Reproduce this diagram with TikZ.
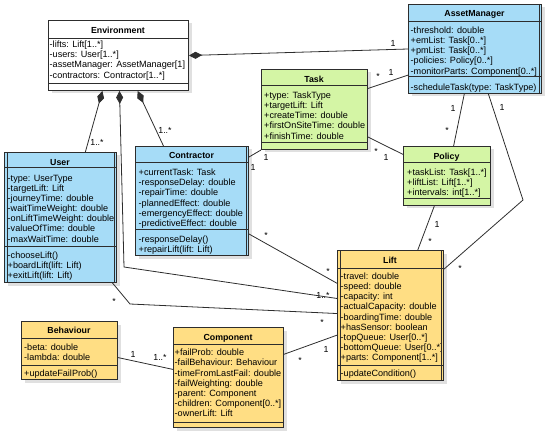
\documentclass[tikz,border=0pt]{standalone}
\usepackage{fontspec}
\setmainfont{Liberation Sans}
\usetikzlibrary{positioning,calc,arrows.meta,shadows}

\definecolor{umlline}{RGB}{45,45,45}
\definecolor{activeblue}{RGB}{166,220,247}
\definecolor{taskgreen}{RGB}{212,245,165}
\definecolor{liftorange}{RGB}{255,222,132}

\tikzset{
  classbox/.style={draw=umlline, line width=1pt, anchor=north west, inner sep=0pt,
    drop shadow={shadow xshift=3pt, shadow yshift=-3pt, fill=black, opacity=0.12}},
  classname/.style={font=\fontsize{8.8}{10.2}\selectfont\bfseries, inner sep=0pt, anchor=base},
  members/.style={font=\fontsize{9.1}{10.2}\selectfont, align=left, inner sep=0pt, anchor=base west},
  sepline/.style={draw=umlline, line width=1pt},
  assoc/.style={draw=umlline, line width=0.8pt},
  compose/.style={assoc, {Diamond[length=13pt,width=7pt]}-},
  mult/.style={font=\fontsize{8.8}{10.2}\selectfont, inner sep=0pt, anchor=base},
}

\begin{document}
\begin{tikzpicture}[x=1pt, y=-1pt]
\useasboundingbox (0,0) rectangle (550,436);

% Environment
\node[classbox, fill=white, minimum width=140pt, minimum height=70pt] (env) at (48,20) {};
\node[classname] (env-name) at (118,34) {Environment};
\node[members] (env-attr) at (49.5,78.2) {-lifts: Lift[1..*]\\-users: User[1..*]\\-assetManager: AssetManager[1]\\-contractors: Contractor[1..*]};
\draw[sepline] (env.west |- 0,39) -- (env.east |- 0,39);
\draw[sepline] (env.west |- 0,84) -- (env.east |- 0,84);

% AssetManager
\node[classbox, fill=activeblue, minimum width=133pt, minimum height=89pt] (am) at (408,4) {};
\node[classname] (am-name) at (474.5,17) {AssetManager};
\node[members] (am-attr) at (410.5,74.1) {-threshold: double\\+emList: Task[0..*]\\+pmList: Task[0..*]\\-policies: Policy[0..*]\\-monitorParts: Component[0..*]};
\node[members] (am-ops) at (410.5,90.6) {-scheduleTask(type: TaskType)};
\draw[sepline] (am.west |- 0,22) -- (am.east |- 0,22);
\draw[sepline] (am.west |- 0,77) -- (am.east |- 0,77);
\draw[sepline] ([xshift=-3pt]am.north east) -- ([xshift=-3pt]am.south east);

% Task
\node[classbox, fill=taskgreen, minimum width=106pt, minimum height=80pt] (task) at (261,69) {};
\node[classname] (task-name) at (314,83) {Task};
\node[members] (task-attr) at (264,139.1) {+type: TaskType\\+targetLift: Lift\\+createTime: double\\+firstOnSiteTime: double\\+finishTime: double};
\draw[sepline] (task.west |- 0,86) -- (task.east |- 0,86);
\draw[sepline] (task.west |- 0,143) -- (task.east |- 0,143);

% Policy
\node[classbox, fill=taskgreen, minimum width=87pt, minimum height=59pt] (policy) at (403,146) {};
\node[classname] (policy-name) at (446.5,160) {Policy};
\node[members] (policy-attr) at (407,196) {+taskList: Task[1..*]\\+liftList: Lift[1..*]\\+intervals: int[1..*]};
\draw[sepline] (policy.west |- 0,163) -- (policy.east |- 0,163);
\draw[sepline] (policy.west |- 0,199) -- (policy.east |- 0,199);

% User
\node[classbox, fill=activeblue, minimum width=112pt, minimum height=130pt] (user) at (4,152) {};
\node[classname] (user-name) at (60,165) {User};
\node[members] (user-attr) at (7.5,242.2) {-type: UserType\\-targetLift: Lift\\-journeyTime: double\\-waitTimeWeight: double\\-onLiftTimeWeight: double\\-valueOfTime: double\\-maxWaitTime: double};
\node[members] (user-ops) at (7.5,278.7) {-chooseLift()\\+boardLift(lift: Lift)\\+exitLift(lift: Lift)};
\draw[sepline] (user.west |- 0,168) -- (user.east |- 0,168);
\draw[sepline] (user.west |- 0,246) -- (user.east |- 0,246);
\draw[sepline] ([xshift=3pt]user.north west) -- ([xshift=3pt]user.south west);
\draw[sepline] ([xshift=-3pt]user.north east) -- ([xshift=-3pt]user.south east);

% Contractor
\node[classbox, fill=activeblue, minimum width=113pt, minimum height=109pt] (contractor) at (135,146) {};
\node[classname] (contractor-name) at (191.5,159) {Contractor};
\node[members] (contractor-attr) at (138.5,226.6) {+currentTask: Task\\-responseDelay: double\\-repairTime: double\\-plannedEffect: double\\-emergencyEffect: double\\-predictiveEffect: double};
\node[members] (contractor-ops) at (138.5,252.8) {-responseDelay()\\+repairLift(lift: Lift)};
\draw[sepline] (contractor.west |- 0,163) -- (contractor.east |- 0,163);
\draw[sepline] (contractor.west |- 0,230) -- (contractor.east |- 0,230);
\draw[sepline] ([xshift=-3pt]contractor.north east) -- ([xshift=-3pt]contractor.south east);

% Lift
\node[classbox, fill=liftorange, minimum width=106pt, minimum height=130pt] (lift) at (337,250) {};
\node[classname] (lift-name) at (390,263) {Lift};
\node[members] (lift-attr) at (340.5,360.9) {-travel: double\\-speed: double\\-capacity: int\\-actualCapacity: double\\-boardingTime: double\\+hasSensor: boolean\\-topQueue: User[0..*]\\-bottomQueue: User[0..*]\\+parts: Component[1..*]};
\node[members] (lift-ops) at (340.5,376.6) {-updateCondition()};
\draw[sepline] (lift.west |- 0,268) -- (lift.east |- 0,268);
\draw[sepline] (lift.west |- 0,365) -- (lift.east |- 0,365);
\draw[sepline] ([xshift=3pt]lift.north west) -- ([xshift=3pt]lift.south west);
\draw[sepline] ([xshift=-3pt]lift.north east) -- ([xshift=-3pt]lift.south east);

% Behaviour
\node[classbox, fill=liftorange, minimum width=96pt, minimum height=58pt] (behaviour) at (21,321) {};
\node[classname] (behaviour-name) at (69,334) {Behaviour};
\node[members] (behaviour-attr) at (24,360.5) {-beta: double\\-lambda: double};
\node[members] (behaviour-ops) at (24,376.6) {+updateFailProb()};
\draw[sepline] (behaviour.west |- 0,338) -- (behaviour.east |- 0,338);
\draw[sepline] (behaviour.west |- 0,365) -- (behaviour.east |- 0,365);

% Component
\node[classbox, fill=liftorange, minimum width=110pt, minimum height=100pt] (component) at (173,327) {};
\node[classname] (component-name) at (228,340) {Component};
\node[members] (component-attr) at (174.5,416.8) {+failProb: double\\-failBehaviour: Behaviour\\-timeFromLastFail: double\\-failWeighting: double\\-parent: Component\\-children: Component[0..*]\\-ownerLift: Lift};
\draw[sepline] (component.west |- 0,344) -- (component.east |- 0,344);
\draw[sepline] (component.west |- 0,422) -- (component.east |- 0,422);

% connectors
\coordinate (env-bend) at (124,267);
\coordinate (user-bend) at (130,304);
\coordinate (am-bend) at (523,200);
\draw[compose] (env.east) -- (am.west);
\draw[compose] ($(env.south west)!0.386!(env.south east)$) -- ($(user.north west)!0.72!(user.north east)$);
\draw[compose] ($(env.south west)!0.507!(env.south east)$) -- (env-bend) -- ($(lift.north west)!0.37!(lift.south west)$);
\draw[compose] ($(env.south west)!0.636!(env.south east)$) -- ($(contractor.north west)!0.25!(contractor.north east)$);
\draw[assoc] ($(user.south west)!0.96!(user.south east)$) -- (user-bend) -- ($(lift.north west)!0.485!(lift.south west)$);
\draw[assoc] ($(contractor.north east)!0.8!(contractor.south east)$) -- ($(lift.north west)!0.254!(lift.south west)$);
\draw[assoc] ($(contractor.north east)!0.1!(contractor.south east)$) -- (task.south west);
\draw[assoc] ($(task.north east)!0.24!(task.south east)$) -- ($(am.north west)!0.79!(am.south west)$);
\draw[assoc] ($(task.north east)!0.84!(task.south east)$) -- ($(policy.north west)!0.14!(policy.south west)$);
\draw[assoc] ($(am.south west)!0.42!(am.south east)$) -- ($(policy.north west)!0.575!(policy.north east)$);
\draw[assoc] ($(am.south west)!0.6!(am.south east)$) -- (am-bend) -- ($(lift.north east)!0.146!(lift.south east)$);
\draw[assoc] ($(policy.south west)!0.356!(policy.south east)$) -- ($(lift.north west)!0.755!(lift.north east)$);
\draw[assoc] ($(component.north east)!0.27!(component.south east)$) -- ($(lift.north west)!0.65!(lift.south west)$);
\draw[assoc] ($(behaviour.north east)!0.62!(behaviour.south east)$) -- ($(component.north west)!0.42!(component.south west)$);

% multiplicities
\node[mult] (m-env-am) at (393,46.2) {1};
\node[mult] (m-env-user) at (97,146) {1..*};
\node[mult] (m-env-contractor) at (165,133.5) {1..*};
\node[mult] (m-env-lift) at (323,298.5) {1..*};
\node[mult] (m-user-a) at (114,304) {*};
\node[mult] (m-user-b) at (322,325) {*};
\node[mult] (m-contractor-a) at (266,239) {*};
\node[mult] (m-contractor-b) at (328,274) {*};
\node[mult] (m-ct-a) at (266,160.2) {1};
\node[mult] (m-ct-b) at (253,170.2) {1};
\node[mult] (m-task-am-a) at (378,80) {*};
\node[mult] (m-task-am-b) at (391,75.2) {1};
\node[mult] (m-task-policy-a) at (376,154) {*};
\node[mult] (m-task-policy-b) at (386,160.2) {1};
\node[mult] (m-am-policy-a) at (453,111.2) {1};
\node[mult] (m-am-policy-b) at (447,134) {*};
\node[mult] (m-am-lift-a) at (502,110.2) {1};
\node[mult] (m-am-lift-b) at (460,271) {*};
\node[mult] (m-policy-lift-a) at (437,227.2) {1};
\node[mult] (m-policy-lift-b) at (430,244) {*};
\node[mult] (m-component-lift-a) at (300,363) {*};
\node[mult] (m-component-lift-b) at (326,352.2) {1};
\node[mult] (m-behaviour-a) at (133,357.2) {1};
\node[mult] (m-behaviour-b) at (160,360.5) {1..*};
\end{tikzpicture}
\end{document}
